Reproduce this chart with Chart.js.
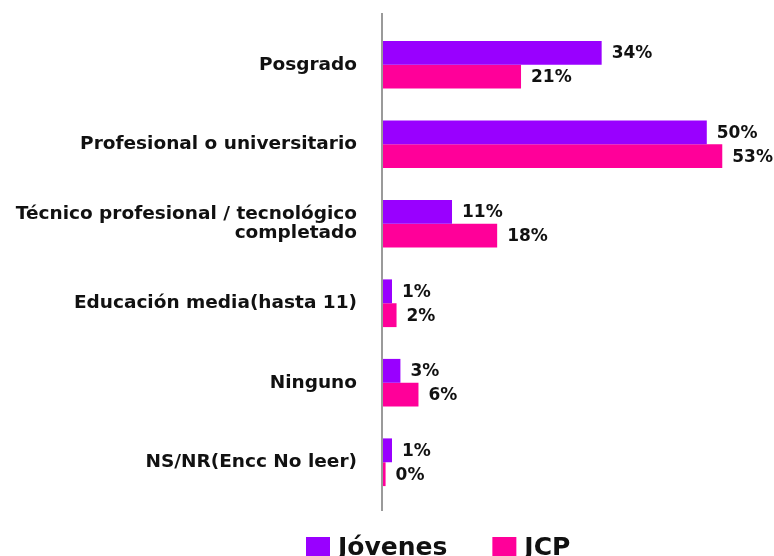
<!DOCTYPE html>
<html>
<head>
<meta charset="utf-8">
<script src="https://cdn.jsdelivr.net/npm/chart.js@4"></script>
<style>
  html, body { margin: 0; padding: 0; background: #fff; }
  #wrap { width: 774px; height: 556px; }
</style>
</head>
<body>
<div id="wrap"><canvas id="grafica" width="774" height="556"></canvas></div>
<script>
// Datos de la gráfica
const categorias = [
  "Posgrado",
  "Profesional o universitario",
  ["Técnico profesional / tecnológico", "completado"],
  "Educación media(hasta 11)",
  "Ninguno",
  "NS/NR(Encc No leer)"
];
const series = ["Jóvenes", "JCP"];
const jovenes = [33.9, 50.2, 10.7, 1.4, 2.7, 1.4];
const jcp = [21.4, 52.6, 17.7, 2.1, 5.5, 0.4];

const morado = "#9900ff";
const rosa = "#ff0099";
const fuente = "DejaVu Sans";

// Etiquetas de porcentaje al final de cada barra
const etiquetas = {
  id: "etiquetas",
  afterDatasetsDraw(chart) {
    const ctx = chart.ctx;
    ctx.save();
    ctx.font = "bold 17px " + fuente;
    ctx.fillStyle = "#111";
    ctx.textAlign = "left";
    ctx.textBaseline = "middle";
    chart.data.datasets.forEach((ds, i) => {
      chart.getDatasetMeta(i).data.forEach((bar, j) => {
        ctx.fillText(Math.round(ds.data[j]) + "%", bar.x + 10, bar.y + 1);
      });
    });
    ctx.restore();
  }
};

// Línea vertical del eje
const ejeLinea = {
  id: "ejeLinea",
  afterDatasetsDraw(chart) {
    const { ctx, chartArea } = chart;
    ctx.save();
    ctx.strokeStyle = "#9a9a9a";
    ctx.lineWidth = 2;
    ctx.beginPath();
    ctx.moveTo(chartArea.left - 1, 13);
    ctx.lineTo(chartArea.left - 1, chartArea.bottom + 9);
    ctx.stroke();
    ctx.restore();
  }
};

// Leyenda abajo (queda cortada por el borde como en el original)
const leyenda = {
  id: "leyenda",
  afterDraw(chart) {
    const ctx = chart.ctx;
    ctx.save();
    ctx.font = "bold 25px " + fuente;
    ctx.textBaseline = "alphabetic";
    ctx.textAlign = "left";
    let x = 306;
    chart.data.datasets.forEach((ds) => {
      ctx.fillStyle = ds.backgroundColor;
      ctx.fillRect(x, 537, 24, 24);
      ctx.fillStyle = "#111";
      ctx.fillText(ds.label, x + 32, 555);
      x += 32 + ctx.measureText(ds.label).width + 45;
    });
    ctx.restore();
  }
};

new Chart(document.getElementById("grafica"), {
  type: "bar",
  data: {
    labels: categorias,
    datasets: [
      { label: series[0], data: jovenes, backgroundColor: morado },
      { label: series[1], data: jcp, backgroundColor: rosa }
    ]
  },
  options: {
    indexAxis: "y",
    responsive: false,
    animation: false,
    categoryPercentage: 0.6,
    barPercentage: 1,
    layout: { padding: { top: 25, right: 4, bottom: 54, left: 0 } },
    scales: {
      x: {
        min: 0,
        max: 60,
        display: false,
        grid: { display: false }
      },
      y: {
        afterFit(scale) {
          scale.width = 383;
          scale.paddingTop = 0;
          scale.paddingBottom = 0;
        },
        grid: { display: false, drawTicks: false },
        border: { display: false },
        ticks: {
          color: "#111",
          padding: 26,
          font: { family: fuente, size: 18.5, weight: "bold", lineHeight: 1.0 }
        }
      }
    },
    plugins: {
      legend: { display: false },
      tooltip: { enabled: false }
    }
  },
  plugins: [etiquetas, ejeLinea, leyenda]
});
</script>
</body>
</html>
